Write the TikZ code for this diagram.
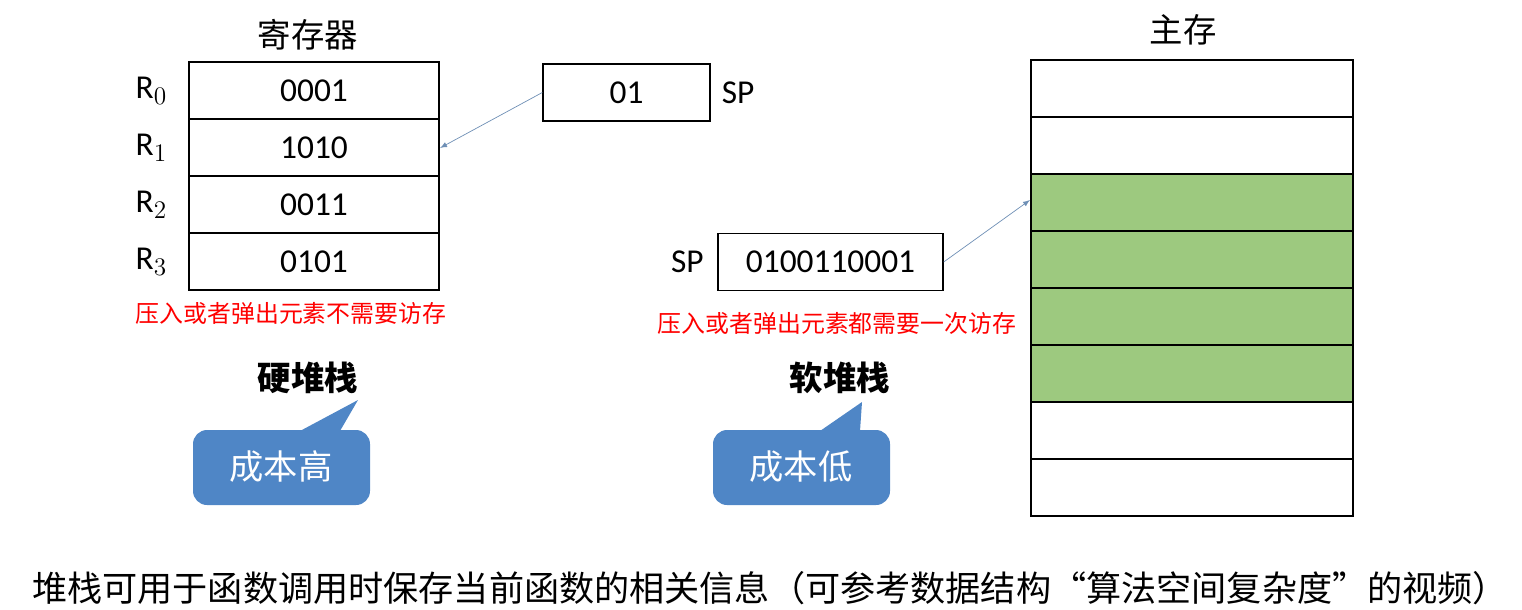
\documentclass[tikz,border=0pt]{standalone}
\usepackage{fontspec}
\setmainfont{Carlito}
\newfontfamily\cjk{Noto Sans CJK SC}
\usetikzlibrary{positioning}
\definecolor{callblue}{HTML}{4F86C6}
\definecolor{memgreen}{HTML}{9DC97F}
\definecolor{arrowgray}{HTML}{6E8FB5}
\tikzset{
  cell/.style={draw, thick, minimum width=5cm, minimum height=1.14cm, inner sep=0pt, font=\fontsize{19}{19}\selectfont},
  memcell/.style={draw, thick, minimum width=6.44cm, minimum height=1.14cm, inner sep=0pt},
  title/.style={font=\cjk\fontsize{19}{19}\selectfont},
  note/.style={text=red, font=\cjk\fontsize{13.6}{13.6}\selectfont},
  reglab/.style={font=\fontsize{19}{19}\selectfont},
  calltext/.style={text=white, font=\cjk\fontsize{19.5}{19.5}\selectfont},
  ptr/.style={arrowgray, ->, >=latex},
}
\begin{document}
\begin{tikzpicture}[x=0.02cm, y=-0.02cm]
\useasboundingbox (0,0) rectangle (1522,609);

% registers
\node[title] (regt) at (308,35) {寄存器};
\foreach \v [count=\i from 0] in {0001,1010,0011,0101}
  \node[cell] (r\i) at (314,{90.5+57*\i}) {\v};
\foreach \i in {0,...,3}
  \node[reglab, left=0.3cm of r\i] {R$_\i$};

\node[cell, minimum width=3.34cm] (sp1) at (626.5,92.5) {01};
\node[reglab, right=0.1cm of sp1] {SP};
\coordinate (tgt1) at (440,148);
\draw[ptr] (sp1.west) -- (tgt1);

\node[note] (n1) at (291,313) {压入或者弹出元素不需要访存};
\node[title, font=\cjk\bfseries\fontsize{19}{19}\selectfont] (hs) at (308,378) {硬堆栈};

% callouts
\fill[callblue, rounded corners=8pt] (193,430) rectangle (370,505);
\fill[callblue] (300,431) -- (358,400) -- (340,431) -- cycle;
\node[calltext] (c1) at (281,467) {成本高};

\fill[callblue, rounded corners=8pt] (713,430) rectangle (890,505);
\fill[callblue] (820,431) -- (862,402) -- (860,431) -- cycle;
\node[calltext] (c2) at (801,467) {成本低};

% soft stack
\node[cell, minimum width=4.5cm] (sp2) at (830.5,262) {0100110001};
\node[reglab, left=0.15cm of sp2] {SP};
\node[note] (n2) at (837,323) {压入或者弹出元素都需要一次访存};
\node[title, font=\cjk\bfseries\fontsize{19}{19}\selectfont] (ss) at (840,378) {软堆栈};

% main memory
\node[title] (memt) at (1183,30) {主存};
\foreach \i in {0,...,7}
  \node[memcell] (m\i) at (1192,{88.5+57*\i}) {};
\foreach \i in {2,...,5}
  \node[memcell, fill=memgreen] at (m\i) {};
\coordinate (tgt2) at (1030,200);
\draw[ptr] (sp2.east) -- (tgt2);

\node[anchor=west, font=\cjk\fontsize{20}{20}\selectfont] (bot) at (26,588)
  {堆栈可用于函数调用时保存当前函数的相关信息（可参考数据结构“算法空间复杂度”的视频）};
\end{tikzpicture}
\end{document}
